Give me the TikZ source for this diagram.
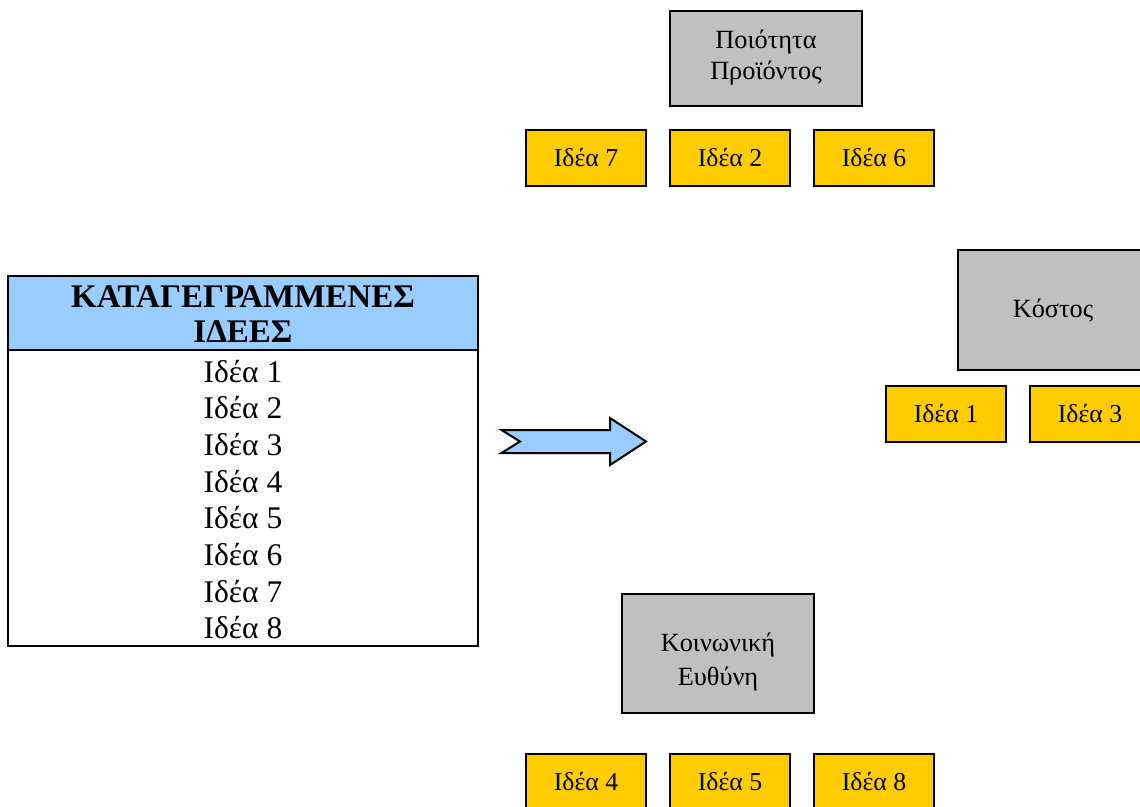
\documentclass[tikz,border=0pt]{standalone}
\usepackage{fontspec}
\setmainfont{Liberation Serif}
\definecolor{boxgray}{HTML}{C0C0C0}
\definecolor{ideayellow}{HTML}{FFCC00}
\definecolor{headblue}{HTML}{99CCFF}
\tikzset{
  catbox/.style={draw=black, line width=2pt, fill=boxgray, inner sep=0pt},
  cattext/.style={inner sep=0pt, align=center, font=\fontsize{26.3}{31}\selectfont},
  ideabox/.style={draw=black, line width=2pt, fill=ideayellow, inner sep=0pt,
    minimum width=120pt, minimum height=56pt, font=\fontsize{25.8}{30}\selectfont},
  headbox/.style={draw=black, line width=2pt, fill=headblue, inner sep=0pt,
    minimum width=470pt, minimum height=74pt},
  headtext/.style={inner sep=0pt, align=center, font=\fontsize{33}{35.5}\selectfont\bfseries},
  listbox/.style={draw=black, line width=2pt, fill=white, inner sep=0pt,
    minimum width=470pt, minimum height=296pt},
  listtext/.style={inner sep=0pt, align=center, font=\fontsize{31.5}{36.7}\selectfont},
  bigarrow/.style={draw=black, line width=2pt, fill=headblue, line join=miter}
}
\begin{document}
\begin{tikzpicture}[x=1pt,y=-1pt]
\useasboundingbox (0,0) rectangle (1140,806);
\clip (0,0) rectangle (1140,806);
\fill[white] (0,0) rectangle (1140,806);

% table of ideas
\node[headbox] (head) at (243,313) {};
\node[headtext] (headlbl) at (243,314) {ΚΑΤΑΓΕΓΡΑΜΜΕΝΕΣ\\ΙΔΕΕΣ};
\node[listbox] (list) at (243,498) {};
\node[listtext] (listlbl) at (243,499.5) {Ιδέα 1\\Ιδέα 2\\Ιδέα 3\\Ιδέα 4\\Ιδέα 5\\Ιδέα 6\\Ιδέα 7\\Ιδέα 8};

% block arrow
\draw[bigarrow] (501.5,430) -- (610,430) -- (610,418) -- (646,441.5) -- (610,465)
  -- (610,453) -- (501.5,453) -- (520,441.5) -- cycle;

% quality
\node[catbox, minimum width=192pt, minimum height=95pt] (qual) at (766,58.5) {};
\node[cattext] (quallbl) at (766,58) {Ποιότητα\\Προϊόντος};
\node[ideabox] (i7) at (586,158) {Ιδέα 7};
\node[ideabox] (i2) at (730,158) {Ιδέα 2};
\node[ideabox] (i6) at (874,158) {Ιδέα 6};

% cost
\node[catbox, minimum width=190pt, minimum height=120pt] (cost) at (1053,310) {};
\node[cattext] (costlbl) at (1053,311) {Κόστος};
\node[ideabox] (i1) at (946,413.5) {Ιδέα 1};
\node[ideabox] (i3) at (1090,413.5) {Ιδέα 3};

% social responsibility
\node[catbox, minimum width=192pt, minimum height=119pt] (soc) at (718,653.5) {};
\node[cattext, font=\fontsize{26.3}{34}\selectfont] (soclbl) at (718,662) {Κοινωνική\\Ευθύνη};
\node[ideabox] (i4) at (586,782) {Ιδέα 4};
\node[ideabox] (i5) at (730,782) {Ιδέα 5};
\node[ideabox] (i8) at (874,782) {Ιδέα 8};
\end{tikzpicture}
\end{document}
